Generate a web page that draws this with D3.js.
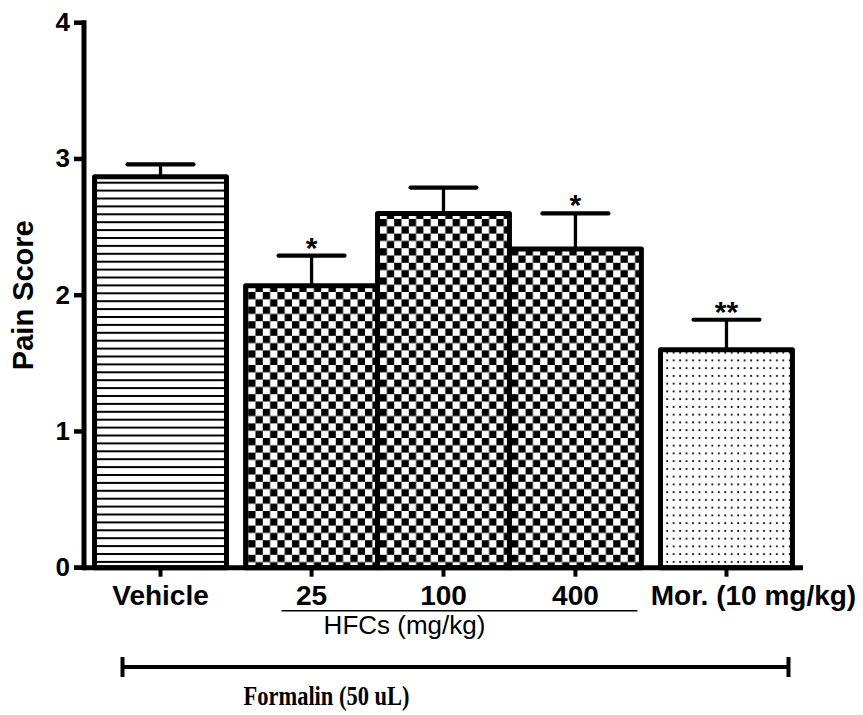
<!DOCTYPE html>
<html>
<head>
<meta charset="utf-8" />
<title>Pain Score - Formalin test</title>
<script src="https://d3js.org/d3.v7.min.js"></script>
<style>
  body { margin: 0; background: #ffffff; }
  svg { display: block; }
  text { font-family: Arial, "Liberation Sans", sans-serif; fill: #000; }
</style>
</head>
<body>
<svg id="viz"></svg>

<script>
// data
var categories = ["Vehicle", "25", "100", "400", "Mor. (10 mg/kg)"];
var groups = ["Vehicle", "HFCs", "HFCs", "HFCs", "Morphine"];
var meanScore = [2.87, 2.07, 2.60, 2.34, 1.60];
var semScore = [0.09, 0.22, 0.19, 0.26, 0.22];
var significance = ["", "*", "", "*", "**"];
var yTicks = [0, 1, 2, 3, 4];
var doseLabel = "HFCs (mg/kg)";
var treatmentLabel = "Formalin (50 uL)";
var yTitle = "Pain Score";

var width = 863, height = 715;

var svg = d3.select("#viz")
  .attr("width", width)
  .attr("height", height);

svg.append("rect").attr("width", width).attr("height", height).attr("fill", "#fff");

// patterns
var defs = svg.append("defs");

var pLines = defs.append("pattern")
  .attr("id", "pat-lines")
  .attr("patternUnits", "userSpaceOnUse")
  .attr("width", 8).attr("height", 7.9);
pLines.append("rect").attr("width", 8).attr("height", 7.9).attr("fill", "#fff");
pLines.append("rect").attr("y", 0).attr("width", 8).attr("height", 2).attr("fill", "#000");

var pChecker = defs.append("pattern")
  .attr("id", "pat-checker")
  .attr("patternUnits", "userSpaceOnUse")
  .attr("width", 14.6).attr("height", 14.6);
pChecker.append("rect").attr("width", 14.6).attr("height", 14.6).attr("fill", "#fff");
pChecker.append("rect").attr("width", 7.3).attr("height", 7.3).attr("fill", "#000");
pChecker.append("rect").attr("x", 7.3).attr("y", 7.3).attr("width", 7.3).attr("height", 7.3).attr("fill", "#000");

var pDots = defs.append("pattern")
  .attr("id", "pat-dots")
  .attr("patternUnits", "userSpaceOnUse")
  .attr("width", 6.45).attr("height", 7.75);
pDots.append("rect").attr("width", 6.45).attr("height", 7.75).attr("fill", "#fff");
pDots.append("rect").attr("x", 2).attr("y", 3).attr("width", 1.8).attr("height", 1.8).attr("fill", "#000");

var patternFor = { "Vehicle": "url(#pat-lines)", "HFCs": "url(#pat-checker)", "Morphine": "url(#pat-dots)" };

// x layout in bar units: bars of one group touch, groups separated by a gap
var lead = 0.08, groupGap = 0.145;
var starts = [];
var pos = lead;
categories.forEach(function(c, i) {
  if (i > 0 && groups[i] !== groups[i - 1]) pos += groupGap;
  starts.push(pos);
  pos += 1;
});
var totalUnits = pos + lead;

var x = d3.scaleLinear().domain([0, totalUnits]).range([84, 803]);
var y = d3.scaleLinear().domain([0, 4]).range([567.7, 22.7]);

var bars = categories.map(function(c, i) {
  return {
    name: c,
    group: groups[i],
    mean: meanScore[i],
    sem: semScore[i],
    sig: significance[i],
    x0: starts[i],
    mid: starts[i] + 0.5
  };
});

// error bars (upper only)
var eb = svg.append("g").attr("class", "errorbars");
eb.selectAll("line.stem")
  .data(bars)
  .enter().append("line")
  .attr("x1", function(d) { return x(d.mid); })
  .attr("x2", function(d) { return x(d.mid); })
  .attr("y1", function(d) { return y(d.mean); })
  .attr("y2", function(d) { return y(d.mean + d.sem); })
  .attr("stroke", "#000").attr("stroke-width", 3.3);
eb.selectAll("line.cap")
  .data(bars)
  .enter().append("line")
  .attr("x1", function(d) { return x(d.mid - 0.25); })
  .attr("x2", function(d) { return x(d.mid + 0.25); })
  .attr("y1", function(d) { return y(d.mean + d.sem); })
  .attr("y2", function(d) { return y(d.mean + d.sem); })
  .attr("stroke", "#000").attr("stroke-width", 4.2)
  .attr("stroke-linecap", "round");

// bars
svg.append("g").selectAll("rect")
  .data(bars)
  .enter().append("rect")
  .attr("x", function(d) { return x(d.x0); })
  .attr("width", function(d) { return x(d.x0 + 1) - x(d.x0); })
  .attr("y", function(d) { return y(d.mean); })
  .attr("height", function(d) { return y(0) - y(d.mean); })
  .attr("fill", function(d) { return patternFor[d.group]; })
  .attr("stroke", "#000")
  .attr("stroke-width", 5)
  .attr("stroke-linejoin", "round");

// significance stars
svg.append("g").selectAll("text")
  .data(bars.filter(function(d) { return d.sig; }))
  .enter().append("text")
  .attr("x", function(d) { return x(d.mid); })
  .attr("y", function(d) { return y(d.mean + d.sem) + 2; })
  .attr("text-anchor", "middle")
  .style("font-size", "30px").style("font-weight", "bold")
  .text(function(d) { return d.sig; });

// y axis
var yAxis = svg.append("g")
  .attr("transform", "translate(84,0)")
  .call(d3.axisLeft(y).tickValues(yTicks).tickFormat(d3.format("d"))
    .tickSize(10).tickSizeOuter(0).tickPadding(4).offset(0));
yAxis.select(".domain").attr("stroke-width", 5).attr("stroke-linecap", "square");
yAxis.selectAll(".tick line").attr("stroke-width", 4.5);
yAxis.selectAll(".tick text")
  .style("font-size", "26px").style("font-weight", "bold")
  .style("font-family", "Arial, 'Liberation Sans', sans-serif");

// x axis
var xAxis = svg.append("g")
  .attr("transform", "translate(0," + y(0) + ")")
  .call(d3.axisBottom(x).tickValues(bars.map(function(d) { return d.mid; }))
    .tickFormat(function(d, i) { return categories[i]; })
    .tickSize(9).tickSizeOuter(0).tickPadding(8.5).offset(0));
xAxis.select(".domain").attr("stroke-width", 5);
xAxis.selectAll(".tick line").attr("stroke-width", 4);
xAxis.selectAll(".tick text")
  .style("font-size", "28px").style("font-weight", "bold")
  .style("font-family", "Arial, 'Liberation Sans', sans-serif")
  .attr("dx", function(d, i) { return i === categories.length - 1 ? 27 : 0; });
// the left end of the x axis continues under the zero tick
svg.append("line")
  .attr("x1", 74).attr("x2", 84)
  .attr("y1", y(0)).attr("y2", y(0))
  .attr("stroke", "#000").attr("stroke-width", 4.5);

// y title
svg.append("text")
  .attr("transform", "translate(33," + ((y(0) + y(4)) / 2) + ") rotate(-90)")
  .attr("text-anchor", "middle")
  .style("font-size", "29px").style("font-weight", "bold")
  .text(yTitle);

// dose group bracket
var hfc = bars.filter(function(d) { return d.group === "HFCs"; });
var hfcMid = hfc[Math.floor(hfc.length / 2)].mid;
svg.append("line")
  .attr("x1", x(hfc[0].mid) - 30)
  .attr("x2", x(hfc[hfc.length - 1].mid) + 62)
  .attr("y1", 610.7).attr("y2", 610.7)
  .attr("stroke", "#000").attr("stroke-width", 1.6);
svg.append("text")
  .attr("x", x(hfcMid) - 39)
  .attr("y", 634)
  .attr("text-anchor", "middle")
  .style("font-size", "26px")
  .text(doseLabel);

// formalin bracket
var fx1 = x(bars[0].mid) - 38, fx2 = x(bars[bars.length - 1].mid) + 62, fy = 667;
var fg = svg.append("g").attr("stroke", "#000");
fg.append("line").attr("x1", fx1).attr("x2", fx2).attr("y1", fy).attr("y2", fy).attr("stroke-width", 4);
fg.append("line").attr("x1", fx1).attr("x2", fx1).attr("y1", fy - 10).attr("y2", fy + 10).attr("stroke-width", 4);
fg.append("line").attr("x1", fx2).attr("x2", fx2).attr("y1", fy - 10).attr("y2", fy + 10).attr("stroke-width", 4);
svg.append("text")
  .attr("x", 326.5)
  .attr("y", 705)
  .attr("text-anchor", "middle")
  .attr("textLength", 166)
  .attr("lengthAdjust", "spacingAndGlyphs")
  .style("font-family", "'Times New Roman', 'Liberation Serif', serif")
  .style("font-size", "27px").style("font-weight", "bold")
  .text(treatmentLabel);
</script>
</body>
</html>
